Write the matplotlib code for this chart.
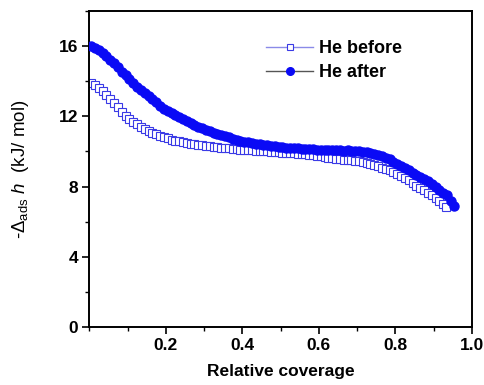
import matplotlib
matplotlib.use("Agg")
import matplotlib.pyplot as plt
from matplotlib.lines import Line2D
from matplotlib.ticker import MultipleLocator

plt.rcParams["font.family"] = ["Liberation Sans", "DejaVu Sans"]
plt.rcParams["mathtext.fontset"] = "custom"
plt.rcParams["mathtext.rm"] = "Liberation Sans"
plt.rcParams["mathtext.it"] = "Liberation Sans:italic"

# ── Data ─────────────────────────────────────────────────────────────────────

after_x = [0.005, 0.015, 0.025, 0.035, 0.045, 0.055, 0.065, 0.075, 0.085, 0.095,
           0.105, 0.115, 0.125, 0.135, 0.145, 0.155, 0.165, 0.175, 0.185, 0.195,
           0.205, 0.215, 0.225, 0.235, 0.245, 0.255, 0.265, 0.275, 0.285, 0.295,
           0.305, 0.315, 0.325, 0.335, 0.345, 0.355, 0.365, 0.375, 0.385, 0.395,
           0.405, 0.415, 0.425, 0.435, 0.445, 0.455, 0.465, 0.475, 0.485, 0.495,
           0.505, 0.515, 0.525, 0.535, 0.545, 0.555, 0.565, 0.575, 0.585, 0.595,
           0.605, 0.615, 0.625, 0.635, 0.645, 0.655, 0.665, 0.675, 0.685, 0.695,
           0.705, 0.715, 0.725, 0.735, 0.745, 0.755, 0.765, 0.775, 0.785, 0.795,
           0.805, 0.815, 0.825, 0.835, 0.845, 0.855, 0.865, 0.875, 0.885, 0.895,
           0.905, 0.915, 0.925, 0.935, 0.945, 0.952]
after_y = [16.00, 15.92, 15.80, 15.62, 15.42, 15.22, 15.02, 14.80, 14.55, 14.35,
           14.12, 13.90, 13.68, 13.50, 13.32, 13.14, 12.98, 12.82, 12.62, 12.45,
           12.30, 12.22, 12.08, 11.95, 11.84, 11.72, 11.63, 11.52, 11.42, 11.34,
           11.25, 11.15, 11.08, 10.98, 10.93, 10.86, 10.80, 10.73, 10.68, 10.60,
           10.56, 10.52, 10.47, 10.44, 10.41, 10.38, 10.35, 10.32, 10.30, 10.28,
           10.25, 10.22, 10.21, 10.18, 10.17, 10.15, 10.14, 10.13, 10.12, 10.10,
           10.10, 10.08, 10.08, 10.07, 10.06, 10.07, 10.05, 10.06, 10.04, 10.03,
           10.01, 9.98, 9.95, 9.90, 9.85, 9.78, 9.72, 9.63, 9.55, 9.42,
           9.30, 9.18, 9.05, 8.92, 8.78, 8.68, 8.57, 8.44, 8.30, 8.12,
           7.95, 7.80, 7.66, 7.50, 7.20, 6.88]

before_x = [0.005, 0.015, 0.025, 0.035, 0.045, 0.055, 0.065, 0.075, 0.085, 0.095,
            0.105, 0.115, 0.125, 0.135, 0.145, 0.155, 0.165, 0.175, 0.185, 0.195,
            0.205, 0.215, 0.225, 0.235, 0.245, 0.255, 0.265, 0.275, 0.285, 0.295,
            0.305, 0.315, 0.325, 0.335, 0.345, 0.355, 0.365, 0.375, 0.385, 0.395,
            0.405, 0.415, 0.425, 0.435, 0.445, 0.455, 0.465, 0.475, 0.485, 0.495,
            0.505, 0.515, 0.525, 0.535, 0.545, 0.555, 0.565, 0.575, 0.585, 0.595,
            0.605, 0.615, 0.625, 0.635, 0.645, 0.655, 0.665, 0.675, 0.685, 0.695,
            0.705, 0.715, 0.725, 0.735, 0.745, 0.755, 0.765, 0.775, 0.785, 0.795,
            0.805, 0.815, 0.825, 0.835, 0.845, 0.855, 0.865, 0.875, 0.885, 0.895,
            0.905, 0.915, 0.925, 0.932]
before_y = [13.90, 13.78, 13.62, 13.45, 13.22, 13.00, 12.78, 12.52, 12.25, 12.05,
            11.88, 11.70, 11.55, 11.40, 11.28, 11.16, 11.06, 10.98, 10.90, 10.82,
            10.74, 10.67, 10.62, 10.57, 10.52, 10.48, 10.44, 10.41, 10.38, 10.35,
            10.33, 10.30, 10.27, 10.25, 10.22, 10.20, 10.17, 10.15, 10.13, 10.11,
            10.10, 10.08, 10.06, 10.05, 10.03, 10.01, 10.00, 9.98, 9.97, 9.95,
            9.94, 9.92, 9.90, 9.89, 9.87, 9.85, 9.83, 9.81, 9.78, 9.76,
            9.72, 9.67, 9.63, 9.60, 9.58, 9.56, 9.54, 9.52, 9.50, 9.47,
            9.45, 9.41, 9.36, 9.30, 9.23, 9.15, 9.08, 9.00, 8.92, 8.83,
            8.73, 8.62, 8.48, 8.35, 8.20, 8.06, 7.92, 7.78, 7.63, 7.50,
            7.36, 7.20, 7.02, 6.82]

x_ticks = [0.2, 0.4, 0.6, 0.8, 1.0]
y_ticks = [0, 4, 8, 12, 16]

BEFORE_COLOR = "#3a3ae6"
AFTER_COLOR = "#0a0af5"

# ── Plot ─────────────────────────────────────────────────────────────────────

fig = plt.figure(figsize=(4.85, 3.85), dpi=100)
ax = fig.add_axes([0.184, 0.151, 0.789, 0.820])

ax.plot(before_x, before_y, linestyle="none", marker="s", markersize=5.2,
        markerfacecolor="white", markeredgecolor=BEFORE_COLOR,
        markeredgewidth=0.8, zorder=2)
ax.plot(after_x, after_y, linestyle="none", marker="o", markersize=6.5,
        color=AFTER_COLOR, zorder=3)

ax.set_xlim(0, 1.0)
ax.set_ylim(0, 18)
ax.set_xticks(x_ticks)
ax.set_yticks(y_ticks)
ax.xaxis.set_minor_locator(MultipleLocator(0.1))
ax.yaxis.set_minor_locator(MultipleLocator(2))
ax.tick_params(which="major", direction="out", length=5, width=1.2,
               labelsize=12.5, pad=3)
ax.tick_params(which="minor", direction="out", length=3, width=1.0)
for lbl in ax.get_xticklabels() + ax.get_yticklabels():
    lbl.set_fontweight("bold")
for sp in ax.spines.values():
    sp.set_linewidth(1.4)

ax.set_xlabel("Relative coverage", fontsize=12.5, fontweight="bold", labelpad=8)
ax.set_ylabel(r"-$\Delta_{\rm ads}$ $\it{h}$  (kJ/ mol)", fontsize=13.5,
              labelpad=20)

handles = [
    Line2D([], [], color="#8a8ae8", linewidth=1.0, marker="s", markersize=4.5,
           markerfacecolor="white", markeredgecolor=BEFORE_COLOR,
           markeredgewidth=0.8),
    Line2D([], [], color="#555555", linewidth=1.0, marker="o", markersize=5.5,
           markerfacecolor=AFTER_COLOR, markeredgecolor=AFTER_COLOR),
]
leg = ax.legend(handles, ["He before", "He after"], loc="upper left",
                bbox_to_anchor=(0.42, 0.96), frameon=False, handlelength=2.6,
                handletextpad=0.35, labelspacing=0.38,
                prop={"weight": "bold", "size": 13})

fig.savefig("out.png", dpi=100)
